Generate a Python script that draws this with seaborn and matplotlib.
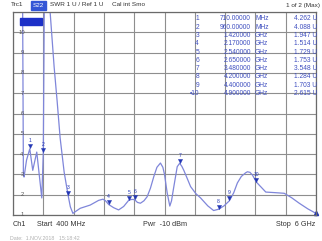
import matplotlib
matplotlib.use("Agg")
import numpy as np
import pandas as pd
import matplotlib.pyplot as plt
import matplotlib.transforms as mtransforms
from matplotlib.patches import Rectangle
import seaborn as sns

# Trace: frequency (MHz) vs SWR (U)
freq_mhz = [400, 560, 575, 592, 604, 650, 710, 765, 839, 932, 960, 985, 1020,
            1086, 1160, 1216, 1271, 1346, 1420, 1460, 1507, 1560, 1642, 1827,
            1982, 2063, 2110, 2170, 2260, 2352, 2445, 2540, 2600, 2650, 2700,
            2755, 2820, 2879, 2940, 3002, 3060, 3125, 3170, 3200, 3250, 3298,
            3330, 3362, 3435, 3480, 3520, 3557, 3620, 3682, 3780, 3867, 4000,
            4108, 4200, 4300, 4400, 4480, 4547, 4620, 4700, 4733, 4780, 4825,
            4900, 4980, 5072, 5250, 5412, 5550, 5690, 5850, 6000]
swr = [20, 15, 13, 3.0, 2.87, 3.7, 4.262, 3.2, 4.1, 1.84, 4.088, 14, 16,
       11.0, 8.3, 6.6, 4.8, 3.1, 1.947, 1.4, 1.08, 1.18, 1.33, 1.49,
       1.72, 1.78, 1.7, 1.514, 1.36, 1.25, 1.42, 1.729, 1.77, 1.753, 1.62,
       1.58, 1.7, 1.9, 2.32, 2.89, 3.35, 3.56, 3.35, 3.0, 2.08, 1.44,
       1.7, 2.23, 3.38, 3.548, 3.4, 3.2, 2.8, 2.4, 2.05, 1.84, 1.45,
       1.22, 1.284, 1.45, 1.703, 2.1, 2.58, 2.9, 3.08, 3.13, 3.1, 2.97,
       2.615, 2.39, 2.13, 2.1, 2.07, 1.85, 1.58, 1.3, 1.08]

# Marker table
marker_ids = ["1", "2", "3", "4", "5", "6", "7", "8", "9", "10"]
marker_freq = [710, 960, 1420, 2170, 2540, 2650, 3480, 4200, 4400, 4900]
marker_swr = [4.262, 4.088, 1.947, 1.514, 1.729, 1.753, 3.548, 1.284, 1.703, 2.615]

y_ticks = [1, 2, 3, 4, 5, 6, 7, 8, 9, 10, 11]

W, H = 322, 241
TRACE = "#7f86da"
MARK = "#2236b4"
TABLE = "#4050c0"
GRID = "#8e8e8e"

sns.set_theme(style="white")
plt.rcParams["font.family"] = ["Liberation Sans", "DejaVu Sans"]


def px(x, y):
    # screen pixel -> figure fraction
    return x / W, 1 - y / H


fig = plt.figure(figsize=(W / 100, H / 100), dpi=100)
ax = fig.add_axes([13 / W, 26 / H, 303 / W, 203 / H])

df = pd.DataFrame({"freq": freq_mhz, "swr": swr})
sns.lineplot(data=df, x="freq", y="swr", ax=ax, color=TRACE, lw=0.9)

mk = pd.DataFrame({"freq": marker_freq, "swr": marker_swr, "id": marker_ids})
sns.scatterplot(data=mk, x="freq", y="swr", ax=ax, marker="v", s=9,
                color=MARK, edgecolor=MARK, linewidth=0.3, zorder=5)
shift = mtransforms.ScaledTranslation(0, 2.5 / 100, fig.dpi_scale_trans)
ax.collections[-1].set_offset_transform(ax.transData + shift)
for _, r in mk.iterrows():
    ax.annotate(r["id"], (r["freq"], r["swr"]), xytext=(0, 5.8),
                textcoords="offset points", ha="center", va="center",
                fontsize=3.6, color=MARK)
# end-of-sweep marker symbol
ax.plot([6000], [1.08], marker="^", ms=3, color=MARK, clip_on=False)

ax.set_xlim(400, 6000)
ax.set_ylim(1, 11)
ax.set_xticks(np.linspace(400, 6000, 11))
ax.set_yticks(y_ticks)
ax.grid(True, color=GRID, lw=0.8)
ax.tick_params(length=0, labelbottom=False, labelleft=False)
ax.set_xlabel("")
ax.set_ylabel("")
for s in ax.spines.values():
    s.set_color("#6a6a6a")
    s.set_linewidth(0.9)

# y scale labels drawn inside the diagram
blend = mtransforms.blended_transform_factory(ax.transAxes, ax.transData)
for t in y_ticks[:-1]:
    ax.text(9 / 303, t, str(t), transform=blend, ha="center", va="center",
            fontsize=4.2, color="#555555")

# reference position box
ax.add_patch(Rectangle((7 / 303, 1 - 13 / 203), 22 / 303, 7 / 203,
                       transform=ax.transAxes, color="#1c30c8", zorder=6))

# header line
fig.text(*px(11, 5), "Trc1", fontsize=4.6, va="center", color="#333333")
fig.patches.append(Rectangle(px(31, 10), 15 / W, 9 / H, transform=fig.transFigure,
                             color="#3456d6", zorder=3))
fig.text(*px(38.5, 5.2), "S22", fontsize=4.6, va="center", ha="center",
         color="white", zorder=4)
fig.text(*px(50, 5), "SWR 1 U / Ref 1 U", fontsize=4.6, va="center", color="#333333")
fig.text(*px(112, 5), "Cal int Smo", fontsize=4.6, va="center", color="#333333")
fig.text(*px(320, 5), "1 of 2 (Max)", fontsize=4.6, va="center", ha="right", color="#333333")

# marker table
for i, (mid, f, v) in enumerate(zip(marker_ids, marker_freq, marker_swr)):
    y = 19 + 8.25 * i
    label = "\u2022" + mid if mid == "10" else mid
    if f < 1000:
        ftxt, unit = f"{f:.5f}", "MHz"
    else:
        ftxt, unit = f"{f / 1000:.6f}", "GHz"
    fig.text(*px(199, y), label, fontsize=4.8, ha="right", va="center", color=TABLE)
    fig.text(*px(251, y), ftxt, fontsize=4.8, ha="right", va="center", color=TABLE)
    fig.text(*px(255, y), unit, fontsize=4.8, ha="left", va="center", color=TABLE)
    fig.text(*px(317, y), f"{v:.3f} U", fontsize=4.8, ha="right", va="center", color=TABLE)

# footer
fig.text(*px(13, 224), "Ch1", fontsize=5.2, va="center", color="#333333")
fig.text(*px(37, 224), "Start  400 MHz", fontsize=5.2, va="center", color="#333333")
fig.text(*px(143, 224), "Pwr  -10 dBm", fontsize=5.2, va="center", color="#333333")
fig.text(*px(315, 224), "Stop  6 GHz", fontsize=5.2, va="center", ha="right", color="#333333")
fig.text(*px(10, 238.5), "Date:  1.NOV.2018   15:18:42", fontsize=3.8, va="center",
         color="#b0b0b0")

fig.savefig("out.png", dpi=100)
